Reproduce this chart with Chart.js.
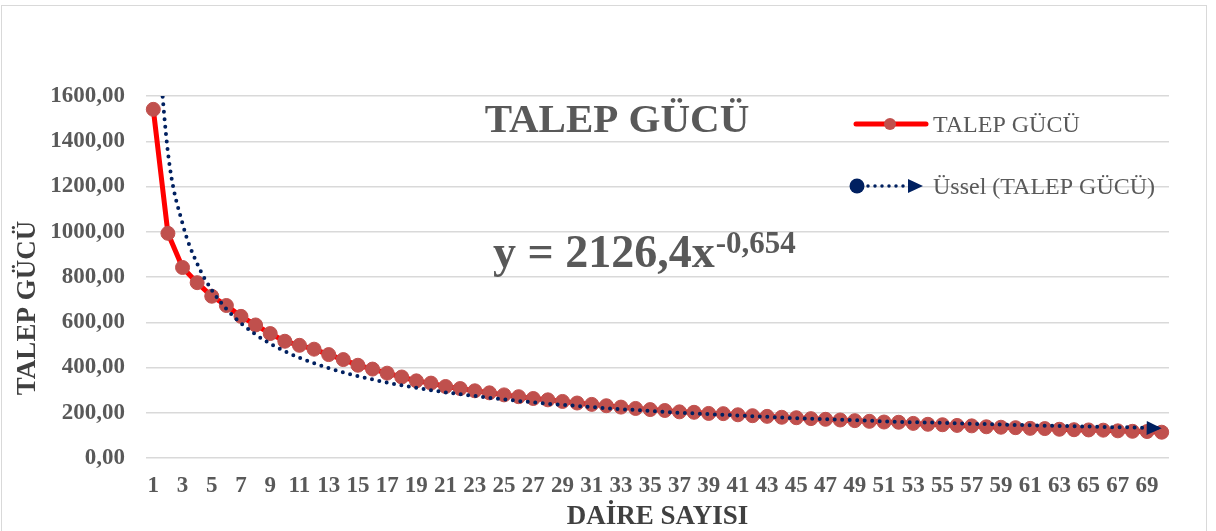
<!DOCTYPE html>
<html>
<head>
<meta charset="utf-8">
<script src="https://cdn.jsdelivr.net/npm/chart.js@4.4.0/dist/chart.umd.min.js"></script>
<style>
    body { margin: 0; background: #fff; }
    #wrap { width: 1216px; height: 531px; }
</style>
</head>
<body>
<div id="wrap"><canvas id="talep-chart" width="1216" height="531"></canvas></div>
<script>
// daire sayisi 1..70
const daireSayisi = Array.from({ length: 70 }, (_, i) => String(i + 1));

// TALEP GÜCÜ values
const talepGucu = [
    1541, 993, 842, 775, 715, 674, 626, 588, 550, 516,
    498, 481, 457, 435, 410, 393, 375, 358, 341, 331,
    316, 307, 297, 288, 279, 271, 263, 257, 250, 243,
    237, 231, 225, 219, 214, 210, 204, 202, 197, 196,
    191, 187, 184, 180, 178, 174, 171, 168, 165, 162,
    159, 158, 153, 149, 147, 144, 142, 138, 136, 134,
    131, 130, 127, 125, 124, 123, 120, 118, 117, 114
];

// Üssel trend line
const usselTrend = [
    2126, 1351, 1036, 859, 742, 659, 596, 546, 505, 472,
    443, 419, 397, 378, 362, 347, 333, 321, 310, 300,
    290, 282, 274, 266, 259, 252, 246, 240, 235, 230,
    225, 220, 216, 212, 208, 204, 200, 197, 194, 191,
    188, 185, 182, 179, 176, 174, 171, 169, 167, 165,
    162, 160, 158, 157, 155, 153, 151, 150, 148, 146,
    145, 143, 142, 140, 139, 137, 136, 135, 133, 132
];

const yTicks = [0, 200, 400, 600, 800, 1000, 1200, 1400, 1600];

const serif = "'Liberation Serif', 'Times New Roman', serif";
const textGray = '#595959';
const navy = '#002060';

Chart.defaults.font.family = serif;

function drawArrow(ctx, x, y, angle, len, half) {
    ctx.save();
    ctx.translate(x, y);
    ctx.rotate(angle);
    ctx.beginPath();
    ctx.moveTo(0, 0);
    ctx.lineTo(-len, -half);
    ctx.lineTo(-len, half);
    ctx.closePath();
    ctx.fillStyle = navy;
    ctx.fill();
    ctx.restore();
}

const extrasPlugin = {
    id: 'extras',
    afterDatasetsDraw(chart) {
        // arrow at the end of the trend line
        const meta = chart.getDatasetMeta(0);
        const pts = meta.data;
        const a = pts[pts.length - 2], b = pts[pts.length - 1];
        drawArrow(chart.ctx, b.x, b.y, Math.atan2(b.y - a.y, b.x - a.x), 15, 7);
    },
    afterDraw(chart) {
        const ctx = chart.ctx;
        ctx.save();

        // outer frame
        ctx.strokeStyle = '#d9d9d9';
        ctx.lineWidth = 1;
        ctx.strokeRect(1.5, 5.5, 1205, 540);

        // y axis title (Excel centres it a bit lower than the plot)
        ctx.save();
        ctx.translate(28, 308);
        ctx.rotate(-Math.PI / 2);
        ctx.fillStyle = '#404040';
        ctx.font = 'bold 27px ' + serif;
        ctx.textAlign = 'center';
        ctx.textBaseline = 'middle';
        ctx.fillText('TALEP GÜCÜ', 0, 0);
        ctx.restore();

        // title
        ctx.fillStyle = textGray;
        ctx.font = 'bold 41px ' + serif;
        ctx.textAlign = 'center';
        ctx.textBaseline = 'alphabetic';
        ctx.fillText('TALEP GÜCÜ', 617, 132);

        // equation
        ctx.textAlign = 'left';
        ctx.font = 'bold 46px ' + serif;
        const base = 'y = 2126,4x';
        ctx.fillText(base, 493, 267);
        const w = ctx.measureText(base).width;
        ctx.font = 'bold 31px ' + serif;
        ctx.fillText('-0,654', 493 + w + 1, 253);

        // legend
        ctx.strokeStyle = '#ff0000';
        ctx.lineWidth = 5;
        ctx.lineCap = 'round';
        ctx.beginPath();
        ctx.moveTo(856, 124);
        ctx.lineTo(926, 124);
        ctx.stroke();
        ctx.fillStyle = '#C0504D';
        ctx.beginPath();
        ctx.arc(890, 124, 6, 0, Math.PI * 2);
        ctx.fill();

        ctx.fillStyle = navy;
        ctx.beginPath();
        ctx.arc(857, 186, 7.5, 0, Math.PI * 2);
        ctx.fill();
        ctx.strokeStyle = navy;
        ctx.lineWidth = 3.5;
        ctx.setLineDash([0, 7]);
        ctx.beginPath();
        ctx.moveTo(868, 186);
        ctx.lineTo(906, 186);
        ctx.stroke();
        ctx.setLineDash([]);
        drawArrow(ctx, 923, 186, 0, 15, 7);

        ctx.fillStyle = textGray;
        ctx.font = '24px ' + serif;
        ctx.fillText('TALEP GÜCÜ', 933, 132);
        ctx.fillText('Üssel (TALEP GÜCÜ)', 933, 194);

        ctx.restore();
    }
};

const ctx = document.getElementById('talep-chart').getContext('2d');
const talepChart = new Chart(ctx, {
    type: 'line',
    data: {
        labels: daireSayisi,
        datasets: [
            {
                label: 'Üssel (TALEP GÜCÜ)',
                data: usselTrend,
                borderColor: navy,
                borderWidth: 4,
                borderDash: [0, 7.5],
                borderCapStyle: 'round',
                cubicInterpolationMode: 'monotone',
                pointRadius: 0,
                fill: false,
                order: 0
            },
            {
                label: 'TALEP GÜCÜ',
                data: talepGucu,
                borderColor: '#ff0000',
                borderWidth: 5,
                tension: 0,
                pointRadius: 7,
                pointBackgroundColor: '#C0504D',
                pointBorderColor: '#C0504D',
                pointBorderWidth: 1,
                fill: false,
                order: 1
            }
        ]
    },
    options: {
        responsive: false,
        animation: false,
        layout: {
            padding: { top: 96, right: 47, bottom: 0, left: 0 }
        },
        plugins: {
            legend: { display: false },
            tooltip: { enabled: false }
        },
        scales: {
            x: {
                offset: true,
                afterFit: (scale) => { scale.height = 73; },
                grid: { display: false, drawTicks: false },
                border: { display: false },
                ticks: {
                    autoSkip: false,
                    maxRotation: 0,
                    minRotation: 0,
                    padding: 14,
                    color: textGray,
                    font: { size: 23, weight: 'bold' },
                    callback: function (val, idx) {
                        return idx % 2 === 0 ? this.getLabelForValue(val) : '';
                    }
                },
                title: {
                    display: true,
                    text: 'DAİRE SAYISI',
                    color: '#404040',
                    padding: 0,
                    font: { size: 27, weight: 'bold', lineHeight: 1 }
                }
            },
            y: {
                min: yTicks[0],
                max: yTicks[yTicks.length - 1],
                afterFit: (scale) => { scale.width = 146; },
                afterBuildTicks: (scale) => {
                    scale.ticks = yTicks.map(v => ({ value: v }));
                },
                grid: { color: '#d9d9d9', lineWidth: 1.5, drawTicks: false },
                border: { display: false },
                ticks: {
                    padding: 21,
                    color: textGray,
                    font: { size: 23, weight: 'bold' },
                    callback: (v) => v.toFixed(2).replace('.', ',')
                }
            }
        }
    },
    plugins: [extrasPlugin]
});
</script>
</body>
</html>
